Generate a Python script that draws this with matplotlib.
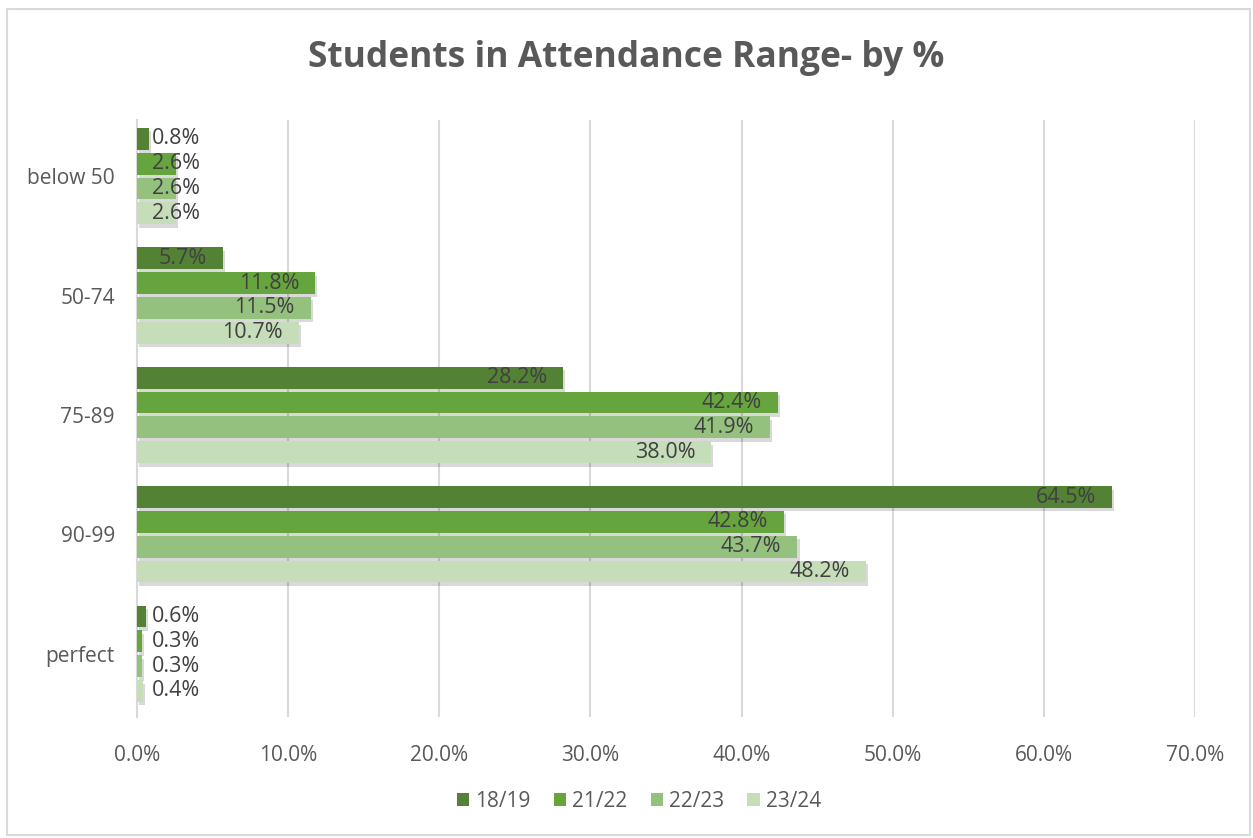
import matplotlib

matplotlib.use("Agg")
import matplotlib.pyplot as plt
import matplotlib.patheffects as pe
from matplotlib.patches import Rectangle
import numpy as np

categories = ["below 50", "50-74", "75-89", "90-99", "perfect"]
series_names = ["18/19", "21/22", "22/23", "23/24"]
values_1819 = [0.8, 5.7, 28.2, 64.5, 0.6]
values_2122 = [2.6, 11.8, 42.4, 42.8, 0.3]
values_2223 = [2.6, 11.5, 41.9, 43.7, 0.3]
values_2324 = [2.6, 10.7, 38.0, 48.2, 0.4]
xticks = [0, 10, 20, 30, 40, 50, 60, 70]

series_values = [values_1819, values_2122, values_2223, values_2324]
colors = ["#548235", "#66A43E", "#95C17E", "#C5DDB8"]

text_color = "#595959"
label_color = "#404040"
plt.rcParams["font.family"] = ["Open Sans", "DejaVu Sans"]

fig = plt.figure(figsize=(12.53, 8.38), dpi=100)
fig.patches.append(Rectangle((7 / 1253, 3 / 838), 1243 / 1253, 826 / 838, transform=fig.transFigure,
                             fill=False, edgecolor="#d9d9d9", linewidth=1.5))
ax = fig.add_axes([137 / 1253, 1 - 717 / 838, (1195 - 137) / 1253, 597 / 838])

pitch = 0.208
height = 0.183
shift = -0.03
y = np.arange(len(categories))
shadow = [pe.SimplePatchShadow(offset=(1.5, -2.5), shadow_rgbFace="#000000", alpha=0.15), pe.Normal()]

bars_all = []
for i, (name, vals, col) in enumerate(zip(series_names, series_values, colors)):
    offs = (i - 1.5) * pitch + shift
    bars = ax.barh(y + offs, vals, height=height, color=col, label=name, zorder=3)
    for b in bars:
        b.set_path_effects(shadow)
    bars_all.append((bars, vals))

ax.set_xlim(0, 70)
ax.set_ylim(4.5, -0.5)
ax.set_xticks(xticks)
ax.set_xticklabels([f"{t:.1f}%" for t in xticks])
ax.set_yticks(y + shift)
ax.set_yticklabels(categories)
ax.tick_params(axis="both", length=0, labelsize=15, colors=text_color)
ax.tick_params(axis="x", pad=20)
ax.tick_params(axis="y", pad=16)
ax.grid(axis="x", color="#d9d9d9", linewidth=1.5, zorder=0)
for s in ["top", "right", "bottom"]:
    ax.spines[s].set_visible(False)
ax.spines["left"].set_color("#d9d9d9")
ax.spines["left"].set_linewidth(1.5)

# data labels: inside end, pushed right when they don't fit
fig.canvas.draw()
renderer = fig.canvas.get_renderer()
px_per_unit = ax.transData.transform((1, 0))[0] - ax.transData.transform((0, 0))[0]
pad = 16 / px_per_unit
min_left = 15 / px_per_unit
for bars, vals in bars_all:
    for b, v in zip(bars, vals):
        yc = b.get_y() + b.get_height() / 2
        t = ax.text(v - pad, yc, f"{v:.1f}%", ha="right", va="center", fontsize=15.5,
                    color=label_color, zorder=4)
        ext = t.get_window_extent(renderer)
        left = ax.transData.inverted().transform((ext.x0, 0))[0]
        if left < min_left:
            t.set_x(min_left)
            t.set_ha("left")

fig.text(0.5, 1 - 58 / 838, "Students in Attendance Range- by %", ha="center", va="center",
         fontsize=25.5, fontweight="bold", color=text_color)

leg = fig.legend(loc="center", bbox_to_anchor=(639 / 1253, 1 - 801 / 838), ncol=4, frameon=False,
                 fontsize=15, handlelength=0.6, handleheight=0.6, handletextpad=0.3, columnspacing=1.1)
for txt in leg.get_texts():
    txt.set_color(text_color)
for h in leg.legend_handles:
    h.set_path_effects([])

fig.savefig("out.png", dpi=100)
